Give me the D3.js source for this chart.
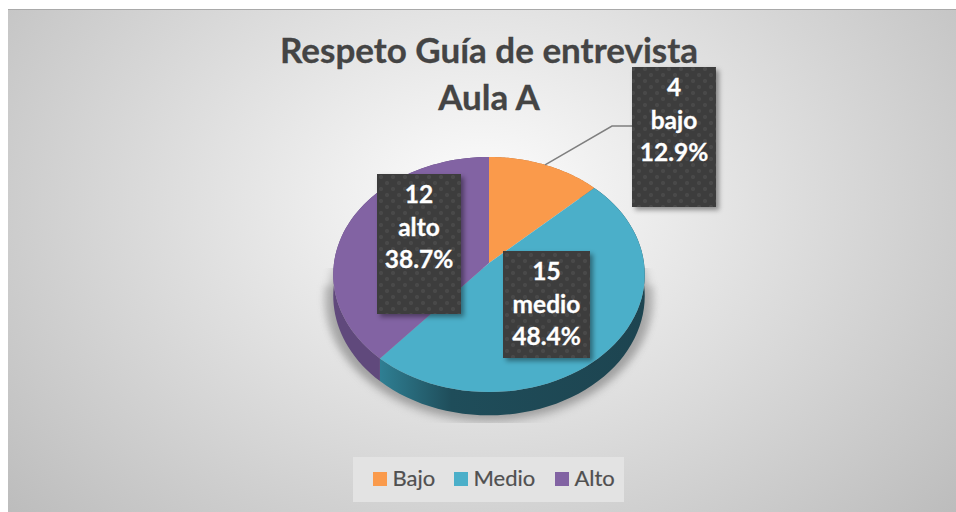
<!DOCTYPE html>
<html lang="es">
<head>
<meta charset="utf-8">
<title>Respeto Guía de entrevista Aula A</title>
<style>
  html, body { margin: 0; padding: 0; background: #fff; }
  svg { display: block; }
  text { font-family: Lato, "Open Sans", sans-serif; }
</style>
<script src="https://d3js.org/d3.v7.min.js"></script>
</head>
<body>
<svg width="956" height="512"></svg>
<script>
  var categories = ["Bajo", "Medio", "Alto"];
  var values = [4, 15, 12];
  var labelNames = ["bajo", "medio", "alto"];
  var titleLines = ["Respeto Guía de entrevista", "Aula A"];

  var colors = ["#fa9a4b", "#4bafc9", "#8263a3"];
  var wallColors = ["#b56a30", "url(#tealWall)", "#60497c"];

  var width = 956, height = 512;
  var svg = d3.select("svg");
  var defs = svg.append("defs");

  // disc geometry, tilted with a little perspective so the near half is bigger
  var cx = 489, cy = 263, R = 155, tiltY = 116.4, persp = 0.098, depth = 21;

  function project(angle, r, drop) {
    var u = Math.sin(angle) * r, v = -Math.cos(angle) * r;
    var k = 1 / (1 - persp * v);
    return [cx + R * u * k, cy + tiltY * v * k + (drop || 0) * k];
  }

  function rim(a0, a1, drop) {
    return d3.range(0, 61).map(function(i) {
      return project(a0 + (a1 - a0) * i / 60, 1, drop);
    });
  }

  var line = d3.line();
  var total = d3.sum(values);
  var slices = d3.pie().sort(null)(values);
  var pct = d3.format(".1%");

  // background
  var bg = defs.append("radialGradient")
    .attr("id", "bg")
    .attr("gradientUnits", "userSpaceOnUse")
    .attr("cx", 0).attr("cy", 0).attr("r", 1)
    .attr("gradientTransform", "translate(482,200) scale(664,497)");
  bg.append("stop").attr("offset", 0).attr("stop-color", "#fdfdfd");
  bg.append("stop").attr("offset", 1).attr("stop-color", "#b9b9b9");

  var teal = defs.append("linearGradient")
    .attr("id", "tealWall")
    .attr("gradientUnits", "userSpaceOnUse")
    .attr("x1", 380).attr("x2", 645).attr("y1", 0).attr("y2", 0);
  teal.append("stop").attr("offset", 0).attr("stop-color", "#2f7f93");
  teal.append("stop").attr("offset", 0.27).attr("stop-color", "#1f4d5a");
  teal.append("stop").attr("offset", 1).attr("stop-color", "#1d4450");

  defs.append("filter").attr("id", "blurShadow")
    .attr("x", "-20%").attr("y", "-20%").attr("width", "140%").attr("height", "140%")
    .append("feGaussianBlur").attr("stdDeviation", 5);

  defs.append("filter").attr("id", "blurWide")
    .attr("x", "-20%").attr("y", "-20%").attr("width", "140%").attr("height", "140%")
    .append("feGaussianBlur").attr("stdDeviation", 3);

  defs.append("clipPath").attr("id", "shadowClip")
    .append("rect").attr("x", 300).attr("y", 268).attr("width", 380).attr("height", 155);

  var boxShadow = defs.append("filter").attr("id", "boxShadow")
    .attr("x", "-20%").attr("y", "-20%").attr("width", "140%").attr("height", "140%");
  boxShadow.append("feDropShadow")
    .attr("dx", 3).attr("dy", 3).attr("stdDeviation", 2.5)
    .attr("flood-color", "#000").attr("flood-opacity", 0.4);

  // dotted texture of the data labels
  var dots = defs.append("pattern").attr("id", "dots")
    .attr("patternUnits", "userSpaceOnUse")
    .attr("width", 12).attr("height", 12);
  dots.append("rect").attr("width", 12).attr("height", 12).attr("fill", "#3e3e3e");
  dots.append("circle").attr("cx", 3).attr("cy", 3).attr("r", 2).attr("fill", "#4a4a4a");
  dots.append("circle").attr("cx", 9).attr("cy", 9).attr("r", 2).attr("fill", "#4a4a4a");

  svg.append("rect")
    .attr("x", 8).attr("y", 9)
    .attr("width", width - 8).attr("height", height - 9)
    .attr("fill", "url(#bg)");
  svg.append("rect")
    .attr("x", 8).attr("y", 9)
    .attr("width", width - 8).attr("height", 1)
    .attr("fill", "#a9a9a9");

  // title
  svg.append("g").selectAll("text")
    .data(titleLines)
    .enter().append("text")
    .attr("x", 489)
    .attr("y", function(d, i) { return 63 + i * 47; })
    .attr("text-anchor", "middle")
    .attr("font-size", 35)
    .attr("font-weight", 700)
    .attr("fill", "#444")
    .attr("stroke", "#444")
    .attr("stroke-width", 0.3)
    .text(function(d) { return d; });

  // soft shadow under the pie, cut off flat at the bottom and fanning out at the sides
  var shadow = svg.append("g").attr("clip-path", "url(#shadowClip)");
  shadow.append("path")
    .attr("d", line(rim(Math.PI * 0.5, Math.PI * 1.5, depth + 2)
      .map(function(p) { return [cx + (p[0] - cx) * 1.065, p[1]]; })) + "Z")
    .attr("fill", "#999")
    .attr("opacity", 0.35)
    .attr("filter", "url(#blurWide)");
  shadow.append("path")
    .attr("d", line(rim(Math.PI * 0.42, Math.PI * 1.58, depth + 6)
      .map(function(p) { return [cx + (p[0] - cx) * 1.03, p[1]]; })) + "Z")
    .attr("fill", "#777")
    .attr("opacity", 0.5)
    .attr("filter", "url(#blurShadow)");

  // side wall
  svg.append("g").selectAll("path")
    .data(slices)
    .enter().append("path")
    .attr("d", function(d) {
      return line(rim(d.startAngle, d.endAngle, 0)
        .concat(rim(d.startAngle, d.endAngle, depth).reverse())) + "Z";
    })
    .attr("fill", function(d, i) { return wallColors[i]; });

  // top face
  svg.append("g").selectAll("path")
    .data(slices)
    .enter().append("path")
    .attr("d", function(d) {
      return line([[cx, cy]].concat(rim(d.startAngle, d.endAngle, 0))) + "Z";
    })
    .attr("fill", function(d, i) { return colors[i]; });

  // leader line for the first slice
  var mid = project((slices[0].startAngle + slices[0].endAngle) / 2, 1, 0);
  svg.append("path")
    .attr("d", line([mid, [612, 126], [632, 126]]))
    .attr("fill", "none")
    .attr("stroke", "#7f7f7f")
    .attr("stroke-width", 1.5);

  // data labels
  var boxes = [
    { x: 632, y: 67, w: 84, h: 140 },
    { x: 503, y: 251, w: 87, h: 107 },
    { x: 377, y: 174, w: 84, h: 140 }
  ];
  var labels = svg.append("g").selectAll("g")
    .data(values)
    .enter().append("g");
  labels.append("rect")
    .attr("x", function(d, i) { return boxes[i].x; })
    .attr("y", function(d, i) { return boxes[i].y; })
    .attr("width", function(d, i) { return boxes[i].w; })
    .attr("height", function(d, i) { return boxes[i].h; })
    .attr("fill", "url(#dots)")
    .attr("filter", "url(#boxShadow)");
  labels.each(function(d, i) {
    var rows = [String(d), labelNames[i], pct(d / total)];
    d3.select(this).selectAll("text")
      .data(rows)
      .enter().append("text")
      .attr("x", boxes[i].x + boxes[i].w / 2)
      .attr("y", function(t, j) { return boxes[i].y + 29 + j * 32.5; })
      .attr("text-anchor", "middle")
      .attr("font-size", 24.5)
      .attr("font-weight", 700)
      .attr("fill", "#fff")
      .attr("stroke", "#fff")
      .attr("stroke-width", 0.3)
      .text(function(t) { return t; });
  });

  // legend
  var legendX = [373, 454, 555];
  svg.append("rect")
    .attr("x", 353).attr("y", 457)
    .attr("width", 271).attr("height", 45)
    .attr("fill", "#e3e3e3");
  var legend = svg.append("g").selectAll("g")
    .data(categories)
    .enter().append("g")
    .attr("transform", function(d, i) { return "translate(" + legendX[i] + ",472)"; });
  legend.append("rect")
    .attr("width", 14).attr("height", 14)
    .attr("fill", function(d, i) { return colors[i]; });
  legend.append("text")
    .attr("x", 19.5).attr("y", 14)
    .attr("font-size", 22)
    .attr("fill", "#505050")
    .attr("stroke", "#505050")
    .attr("stroke-width", 0.2)
    .text(function(d) { return d; });
</script>
</body>
</html>
